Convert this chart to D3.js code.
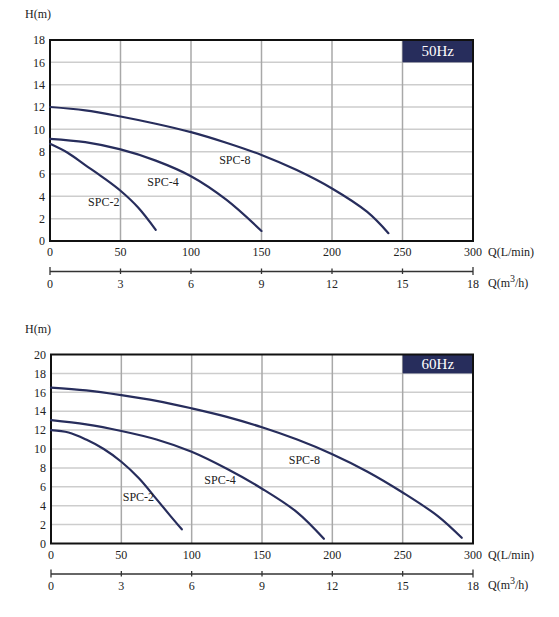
<!DOCTYPE html>
<html>
<head>
<meta charset="utf-8">
<script src="https://cdn.jsdelivr.net/npm/d3@7"></script>
<style>
  body { margin: 0; background: #fff; }
  svg { display: block; font-family: "Liberation Serif", "Times New Roman", serif; }
</style>
</head>
<body>
<svg id="chart" width="559" height="617"></svg>
<script>
// tick labels
const flowTicks = [0, 50, 100, 150, 200, 250, 300];      // L/min
const m3hTicks = [0, 3, 6, 9, 12, 15, 18];               // m3/h
const headTicks50 = [0, 2, 4, 6, 8, 10, 12, 14, 16, 18];
const headTicks60 = [0, 2, 4, 6, 8, 10, 12, 14, 16, 18, 20];

// 50Hz curves, [Q (L/min), H (m)]
const spc2_50 = [[0, 8.7], [12.5, 7.9], [25, 6.8], [37.5, 5.7], [50, 4.5], [62.5, 3.0], [75, 1.0]];
const spc4_50 = [[0, 9.15], [25, 8.85], [50, 8.2], [75, 7.2], [100, 5.8], [125, 3.7], [150, 0.9]];
const spc8_50 = [[0, 12], [25, 11.7], [50, 11.15], [75, 10.5], [100, 9.75], [125, 8.8], [150, 7.7], [175, 6.35], [200, 4.7], [225, 2.6], [240, 0.7]];

// 60Hz curves
const spc2_60 = [[0, 12], [12.5, 11.75], [25, 11.0], [37.5, 10.0], [50, 8.65], [62.5, 6.9], [75, 4.7], [85, 2.9], [93, 1.5]];
const spc4_60 = [[0, 13.05], [25, 12.6], [50, 11.9], [75, 11], [100, 9.7], [125, 7.9], [150, 5.8], [175, 3.3], [194, 0.5]];
const spc8_60 = [[0, 16.5], [25, 16.2], [50, 15.7], [75, 15.1], [100, 14.3], [125, 13.4], [150, 12.3], [175, 11.0], [200, 9.45], [225, 7.6], [250, 5.4], [275, 2.9], [292, 0.6]];

// label anchor points in data units [Q, H]
const labels50 = [["SPC-2", 27, 3.5], ["SPC-4", 69, 5.3], ["SPC-8", 120, 7.3]];
const labels60 = [["SPC-2", 51, 4.9], ["SPC-4", 109, 6.7], ["SPC-8", 169, 8.9]];

const navy = "#272d5c";
const svg = d3.select("#chart");

function drawPanel(opt) {
  const x = d3.scaleLinear().domain([0, 300]).range([opt.left, opt.right]);
  const y = d3.scaleLinear().domain([0, opt.hMax]).range([opt.bottom, opt.top]);
  const xm = d3.scaleLinear().domain([0, 18]).range([opt.left, opt.right]);
  const g = svg.append("g");

  // horizontal grid
  g.append("g").selectAll("line").data(opt.hTicks.slice(1, -1)).join("line")
    .attr("x1", opt.left).attr("x2", opt.right)
    .attr("y1", d => y(d)).attr("y2", d => y(d))
    .attr("stroke", "#cdcdcd").attr("stroke-width", 1.5);

  // vertical grid
  g.append("g").selectAll("line").data(flowTicks.slice(1, -1)).join("line")
    .attr("x1", d => x(d)).attr("x2", d => x(d))
    .attr("y1", opt.top).attr("y2", opt.bottom)
    .attr("stroke", "#a8a8a8").attr("stroke-width", 1.5);

  // Hz box in the top right cell
  const step = opt.hTicks[1] - opt.hTicks[0];
  g.append("rect")
    .attr("x", x(250)).attr("y", y(opt.hMax))
    .attr("width", x(300) - x(250)).attr("height", y(opt.hMax - step) - y(opt.hMax))
    .attr("fill", navy);
  g.append("text")
    .attr("x", (x(250) + x(300)) / 2).attr("y", (y(opt.hMax) + y(opt.hMax - step)) / 2)
    .attr("dy", "0.35em").attr("text-anchor", "middle")
    .attr("fill", "#fff").attr("font-size", 15)
    .text(opt.hz);

  // frame
  g.append("rect")
    .attr("x", opt.left).attr("y", opt.top)
    .attr("width", opt.right - opt.left).attr("height", opt.bottom - opt.top)
    .attr("fill", "none").attr("stroke", "#111").attr("stroke-width", 2);

  // y tick labels
  g.append("g").selectAll("text").data(opt.hTicks).join("text")
    .attr("x", opt.left - 5).attr("y", d => y(d)).attr("dy", "0.35em")
    .attr("text-anchor", "end").attr("font-size", 12).attr("fill", "#222")
    .text(d => d);
  g.append("text").attr("x", 25).attr("y", opt.top - 22)
    .attr("font-size", 12).attr("fill", "#222").text("H(m)");

  // x tick labels (L/min)
  g.append("g").selectAll("text").data(flowTicks).join("text")
    .attr("x", d => x(d)).attr("y", opt.bottom + 15)
    .attr("text-anchor", "middle").attr("font-size", 12).attr("fill", "#222")
    .text(d => d);
  g.append("text").attr("x", 488).attr("y", opt.bottom + 15)
    .attr("font-size", 12).attr("fill", "#222").text("Q(L/min)");

  // secondary m3/h axis
  const ay = opt.bottom + 30.5;
  g.append("line").attr("x1", opt.left).attr("x2", opt.right)
    .attr("y1", ay).attr("y2", ay).attr("stroke", "#333").attr("stroke-width", 1.5);
  g.append("g").selectAll("line").data(m3hTicks).join("line")
    .attr("x1", d => xm(d)).attr("x2", d => xm(d))
    .attr("y1", (d, i) => ay - (i === 0 || i === m3hTicks.length - 1 ? 4.5 : 3))
    .attr("y2", (d, i) => ay + (i === 0 || i === m3hTicks.length - 1 ? 3.5 : 2.5))
    .attr("stroke", "#333").attr("stroke-width", 1.3);
  g.append("g").selectAll("text").data(m3hTicks).join("text")
    .attr("x", d => xm(d)).attr("y", ay + 16)
    .attr("text-anchor", "middle").attr("font-size", 12).attr("fill", "#222")
    .text(d => d);
  const qt = g.append("text").attr("x", 488).attr("y", ay + 15)
    .attr("font-size", 12).attr("fill", "#222");
  qt.append("tspan").text("Q(m");
  qt.append("tspan").attr("dy", -5).attr("font-size", 10).text("3");
  qt.append("tspan").attr("dy", 5).text("/h)");

  // curves
  const line = d3.line().x(d => x(d[0])).y(d => y(d[1])).curve(d3.curveCatmullRom.alpha(0.5));
  g.append("g").selectAll("path").data(opt.series).join("path")
    .attr("d", line).attr("fill", "none")
    .attr("stroke", navy).attr("stroke-width", 2.2).attr("stroke-linecap", "round");

  g.append("g").selectAll("text").data(opt.labels).join("text")
    .attr("x", d => x(d[1])).attr("y", d => y(d[2])).attr("dy", "0.35em")
    .attr("font-size", 12).attr("fill", "#222")
    .text(d => d[0]);
}

drawPanel({
  left: 50, right: 473, top: 40, bottom: 241, hMax: 18,
  hTicks: headTicks50, hz: "50Hz",
  series: [spc2_50, spc4_50, spc8_50], labels: labels50
});

drawPanel({
  left: 51, right: 473, top: 354.5, bottom: 543.5, hMax: 20,
  hTicks: headTicks60, hz: "60Hz",
  series: [spc2_60, spc4_60, spc8_60], labels: labels60
});
</script>
</body>
</html>
